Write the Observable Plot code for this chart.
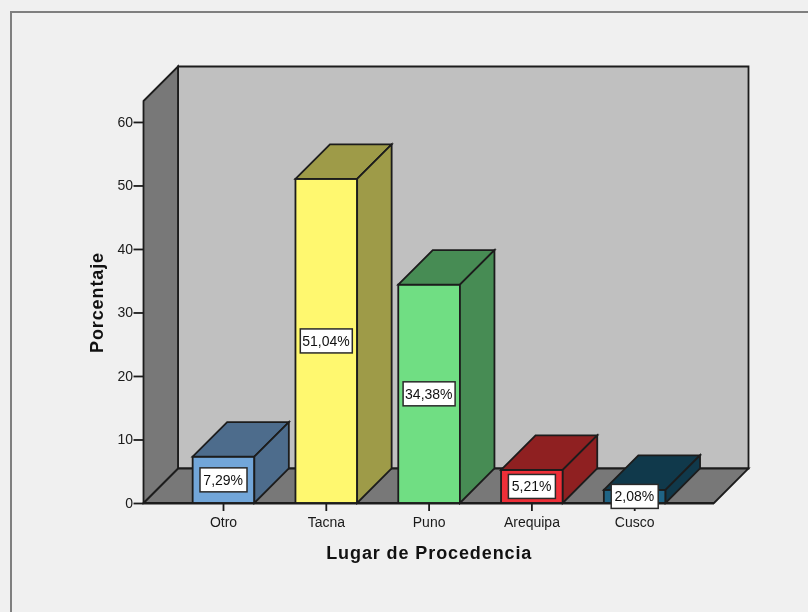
<!DOCTYPE html>
<html>
<head>
<meta charset="utf-8">
<script src="https://cdn.jsdelivr.net/npm/d3@7"></script>
<script src="https://cdn.jsdelivr.net/npm/@observablehq/plot@0.6"></script>
<style>
  html, body { margin: 0; padding: 0; background: #f0f0f0; overflow: hidden; width: 808px; height: 612px; }
  #frame { position: absolute; left: 10px; top: 11px; width: 1000px; height: 1000px; border: 2px solid #7f7f7f; box-sizing: border-box; }
  #chart { position: absolute; left: 0; top: 0; filter: blur(0.35px); }
  #chart svg { display: block; }
  g[aria-label="x-axis label"] text, g[aria-label="y-axis label"] text {
    font: bold 18px "Liberation Sans", Arial, sans-serif; letter-spacing: 0.9px; fill: #111;
  }
</style>
</head>
<body>
<div id="frame"></div>
<div id="chart"></div>
<script>
const categories = ["Otro", "Tacna", "Puno", "Arequipa", "Cusco"];
const percentages = [7.29, 51.04, 34.38, 5.21, 2.08];
const valueLabels = ["7,29%", "51,04%", "34,38%", "5,21%", "2,08%"];
const yTicks = [0, 10, 20, 30, 40, 50, 60];
const frontColors = ["#72a6d9", "#fff86f", "#70de83", "#ee2f38", "#1f6485"];
const depthColors = ["#4d6c8c", "#9e9b48", "#478c54", "#8f2021", "#10394b"];

const yMax = 63.3;
const depth = 34.5;
const edge = "#1c1c1c";
const edgeWidth = 1.8;
const rows = categories.map((c, i) => ({c, v: percentages[i], label: valueLabels[i], depthColor: depthColors[i]}));
const svgNS = "http://www.w3.org/2000/svg";

function poly(parent, pts, fill) {
  const p = document.createElementNS(svgNS, "path");
  p.setAttribute("d", "M" + pts.map(q => q.join(",")).join("L") + "Z");
  p.setAttribute("fill", fill);
  p.setAttribute("stroke", edge);
  p.setAttribute("stroke-width", edgeWidth);
  p.setAttribute("stroke-linejoin", "miter");
  parent.appendChild(p);
}

// Walls and floor of the 3D box, positioned from the plot's own scales
function walls(index, {y}, values, {marginLeft, width, marginRight}) {
  const g = document.createElementNS(svgNS, "g");
  const l = marginLeft, r = width - marginRight, b = y(0), t = y(yMax);
  poly(g, [[l + depth, t - depth], [r + depth, t - depth], [r + depth, b - depth], [l + depth, b - depth]], "#c0c0c0");
  poly(g, [[l, b], [l + depth, b - depth], [r + depth, b - depth], [r, b]], "#787878");
  poly(g, [[l, t], [l + depth, t - depth], [l + depth, b - depth], [l, b]], "#787878");
  return g;
}

// Top and side faces of each bar
function barDepth(index, {x, y}) {
  const g = document.createElementNS(svgNS, "g");
  const w = x.bandwidth();
  for (const d of rows) {
    const x0 = x(d.c), x1 = x0 + w, t = y(d.v), b = y(0);
    poly(g, [[x0, t], [x0 + depth, t - depth], [x1 + depth, t - depth], [x1, t]], d.depthColor);
    poly(g, [[x1, t], [x1 + depth, t - depth], [x1 + depth, b - depth], [x1, b]], d.depthColor);
  }
  return g;
}

// White boxes behind the value labels
function labelBoxes(index, {x, y}) {
  const g = document.createElementNS(svgNS, "g");
  const w = x.bandwidth();
  for (const d of rows) {
    const bw = d.label.length > 5 ? 52 : 47, bh = 24;
    const r = document.createElementNS(svgNS, "rect");
    r.setAttribute("x", x(d.c) + w / 2 - bw / 2);
    r.setAttribute("y", y(d.v / 2) - bh / 2);
    r.setAttribute("width", bw);
    r.setAttribute("height", bh);
    r.setAttribute("fill", "#ffffff");
    r.setAttribute("stroke", "#2a2a2a");
    r.setAttribute("stroke-width", 1.5);
    g.appendChild(r);
  }
  return g;
}

const chart = Plot.plot({
  width: 808,
  height: 612,
  marginLeft: 143.5,
  marginRight: 94,
  marginTop: 101,
  marginBottom: 109,
  style: {background: "transparent", fontFamily: "'Liberation Sans', Arial, sans-serif", fontSize: "14px", color: "#1a1a1a", overflow: "hidden"},
  x: {type: "band", domain: categories, range: [172.1, 686.1], paddingInner: 0.4, paddingOuter: 0.2, round: false},
  y: {domain: [0, yMax]},
  color: {type: "ordinal", domain: categories, range: frontColors},
  marks: [
    walls,
    Plot.barY(rows, {x: "c", y: "v", fill: "c", stroke: edge, strokeWidth: edgeWidth}),
    barDepth,
    Plot.ruleY([0], {stroke: edge, strokeWidth: edgeWidth}),
    Plot.axisY({ticks: yTicks, tickSize: 10, tickPadding: 1, stroke: edge, strokeWidth: 1.8, fontSize: 14, label: "Porcentaje", labelArrow: false, labelAnchor: "center", labelOffset: 54, tickFormat: d => String(d)}),
    Plot.axisX({tickSize: 8, tickPadding: 6, dx: -0.5, stroke: edge, strokeWidth: 1.8, fontSize: 14, label: "Lugar de Procedencia", labelArrow: false, labelAnchor: "center", labelOffset: 55}),
    labelBoxes,
    Plot.text(rows, {x: "c", y: d => d.v / 2, text: "label", fontSize: 14, fill: "#111", dx: -0.8})
  ]
});
document.getElementById("chart").appendChild(chart);
</script>
</body>
</html>
